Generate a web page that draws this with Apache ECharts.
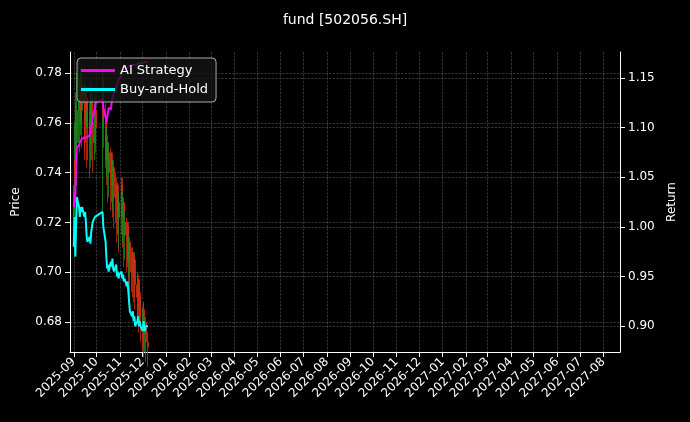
<!DOCTYPE html>
<html>
<head>
<meta charset="utf-8">
<script src="https://cdn.jsdelivr.net/npm/echarts@6/dist/echarts.min.js"></script>
<style>
  html, body { margin: 0; padding: 0; background: #000; }
  #chart { width: 690px; height: 422px; }
</style>
</head>
<body>
<div id="chart"></div>
<script>
// [open, close, low, high] per trading day
const sepBars = [
  [0.722,0.728,0.715,0.735],[0.728,0.745,0.725,0.760],[0.745,0.735,0.728,0.772],
  [0.735,0.752,0.730,0.768],[0.752,0.765,0.745,0.780],[0.765,0.770,0.752,0.785],
  [0.770,0.760,0.748,0.778],[0.760,0.772,0.755,0.782],[0.772,0.765,0.750,0.776],
  [0.765,0.775,0.758,0.780],[0.775,0.768,0.748,0.778],[0.768,0.760,0.745,0.772],
  [0.760,0.770,0.752,0.775],[0.770,0.758,0.742,0.774],[0.758,0.765,0.745,0.770],
  [0.765,0.755,0.738,0.768],[0.755,0.762,0.742,0.770],[0.762,0.770,0.750,0.776],
  [0.770,0.760,0.745,0.772],[0.760,0.752,0.740,0.765],[0.752,0.765,0.745,0.772],
  [0.765,0.758,0.748,0.770]
];
const octBars = [
  [0.758,0.770,0.722,0.782],[0.770,0.762,0.750,0.778],[0.762,0.755,0.742,0.768],
  [0.755,0.745,0.735,0.760],[0.745,0.752,0.738,0.758],[0.752,0.740,0.728,0.755],
  [0.740,0.748,0.730,0.752],[0.748,0.738,0.725,0.750],[0.738,0.745,0.728,0.748],
  [0.745,0.735,0.722,0.748],[0.735,0.742,0.725,0.745],[0.742,0.730,0.718,0.745],
  [0.730,0.735,0.720,0.740],[0.735,0.725,0.712,0.738],[0.725,0.732,0.715,0.736],
  [0.732,0.722,0.708,0.735],[0.722,0.728,0.710,0.732]
];
const novBars = [
  [0.728,0.735,0.715,0.738],[0.735,0.722,0.710,0.738],[0.722,0.728,0.712,0.732],
  [0.728,0.715,0.702,0.730],[0.715,0.720,0.705,0.724],[0.720,0.712,0.700,0.722],
  [0.712,0.718,0.702,0.720],[0.718,0.705,0.695,0.720],[0.705,0.712,0.698,0.715],
  [0.712,0.700,0.690,0.714],[0.700,0.708,0.692,0.710],[0.708,0.702,0.690,0.710],
  [0.702,0.698,0.688,0.706],[0.698,0.705,0.690,0.708],[0.705,0.695,0.685,0.707],
  [0.695,0.690,0.680,0.698],[0.690,0.697,0.682,0.700],[0.697,0.685,0.676,0.699],
  [0.685,0.690,0.678,0.692],[0.690,0.682,0.672,0.692]
];
const decBars = [
  [0.682,0.678,0.668,0.686],[0.678,0.685,0.670,0.688],[0.685,0.675,0.666,0.688],
  [0.675,0.680,0.668,0.682],[0.680,0.672,0.664,0.682],[0.672,0.670,0.662,0.676]
];

const aiReturn = [
  1.02,1.035,1.03,1.06,1.08,1.082,1.085,1.085,1.088,1.088,1.09,1.09,1.09,1.09,1.09,1.092,1.095,1.10,1.105,1.11,1.12,1.125,
  1.128,1.12,1.11,1.105,1.11,1.115,1.12,1.118,1.125,1.13,1.13,1.135,1.14,1.138,1.145,1.148,1.15,
  1.152,1.155,1.158,1.158,1.16,1.16,1.16,1.162,1.162,1.162,1.163,1.163,1.163,1.163,1.164,1.164,1.164,1.165,1.165,1.165,
  1.165,1.165,1.165,1.166,1.166,1.166
];
const bhReturn = [
  0.98,1.01,0.97,1.0,1.03,1.02,1.01,1.02,1.015,1.02,1.01,1.015,1.005,0.99,0.985,0.99,0.983,0.995,1.0,1.005,1.01,1.012,
  1.015,1.0,0.985,0.97,0.958,0.962,0.955,0.965,0.96,0.968,0.958,0.955,0.962,0.95,0.955,0.948,0.952,
  0.955,0.948,0.952,0.945,0.948,0.94,0.945,0.935,0.925,0.915,0.91,0.915,0.905,0.91,0.9,0.905,0.91,0.9,0.905,0.9,
  0.895,0.905,0.9,0.895,0.9,0.9
];

const priceTicks = [0.68, 0.70, 0.72, 0.74, 0.76, 0.78];
const returnTicks = [0.90, 0.95, 1.00, 1.05, 1.10, 1.15];

// trading days 2025-09-01 .. 2025-12-08, weekdays, National Day holiday skipped
const dates = [];
for (let d = new Date(Date.UTC(2025, 8, 1)); d <= new Date(Date.UTC(2025, 11, 8)); d.setUTCDate(d.getUTCDate() + 1)) {
  const wd = d.getUTCDay();
  const s = d.toISOString().slice(0, 10);
  if (wd === 0 || wd === 6) continue;
  if (s >= '2025-10-01' && s <= '2025-10-08') continue;
  dates.push(s);
}

const bars = sepBars.concat(octBars, novBars, decBars);
const candleData = bars.map((b, i) => [dates[i], b[0], b[1], b[2], b[3]]);
const aiData = aiReturn.map((v, i) => [dates[i], v]);
const bhData = bhReturn.map((v, i) => [dates[i], v]);

const font = 'DejaVu Sans';
const split = { show: true, lineStyle: { color: '#555', type: 'dashed', width: 0.6 } };

const chart = echarts.init(document.getElementById('chart'));
chart.setOption({
  backgroundColor: '#000',
  animation: false,
  textStyle: { fontFamily: font },
  title: {
    text: 'fund [502056.SH]', left: 'center', top: 8,
    textStyle: { color: '#fff', fontSize: 14, fontWeight: 'normal', fontFamily: font }
  },
  legend: {
    left: 77, top: 58, orient: 'vertical', itemGap: 6,
    padding: [6, 8, 6, 4],
    backgroundColor: 'rgba(20,20,20,0.8)', borderColor: '#aaa', borderWidth: 1, borderRadius: 4,
    itemWidth: 34, itemHeight: 3, icon: 'rect',
    textStyle: { color: '#fff', fontSize: 13, fontFamily: font },
    data: ['AI Strategy', 'Buy-and-Hold']
  },
  grid: { left: 70, right: 70, top: 52, bottom: 70 },
  xAxis: {
    type: 'time',
    min: '2025-08-27', max: '2027-08-23',
    minInterval: 28 * 86400000, maxInterval: 31 * 86400000,
    axisLine: { lineStyle: { color: '#fff' } },
    axisTick: { lineStyle: { color: '#fff' } },
    axisLabel: { color: '#fff', fontSize: 12, rotate: 45, formatter: '{yyyy}-{MM}', hideOverlap: false, showMinLabel: false, showMaxLabel: false },
    splitLine: split
  },
  yAxis: [{
    type: 'value', min: 0.668, max: 0.7884,
    name: 'Price', nameLocation: 'middle', nameGap: 48, nameTextStyle: { color: '#fff', fontSize: 12 },
    axisLine: { show: true, lineStyle: { color: '#fff' } },
    axisTick: { show: true, customValues: priceTicks },
    axisLabel: { color: '#fff', fontSize: 12, customValues: priceTicks, formatter: v => v.toFixed(2) },
    splitLine: split
  }, {
    type: 'value', min: 0.874, max: 1.176,
    name: 'Return', nameLocation: 'middle', nameGap: 44, nameTextStyle: { color: '#fff', fontSize: 12 },
    axisLine: { show: true, lineStyle: { color: '#fff' } },
    axisTick: { show: true, customValues: returnTicks },
    axisLabel: { color: '#fff', fontSize: 12, customValues: returnTicks, formatter: v => v.toFixed(2) },
    splitLine: split
  }],
  series: [{
    name: 'Price', type: 'candlestick', barWidth: 1.5,
    itemStyle: { color: '#1a8c1a', color0: '#d42a10', borderColor: '#1a8c1a', borderColor0: '#d42a10', borderWidth: 0.8 },
    data: candleData
  }, {
    name: 'AI Strategy', type: 'line', yAxisIndex: 1, showSymbol: false,
    lineStyle: { color: '#ff00ff', width: 2 }, itemStyle: { color: '#ff00ff' },
    data: aiData
  }, {
    name: 'Buy-and-Hold', type: 'line', yAxisIndex: 1, showSymbol: false,
    lineStyle: { color: '#00ffff', width: 2 }, itemStyle: { color: '#00ffff' },
    data: bhData
  }]
});
</script>
</body>
</html>
